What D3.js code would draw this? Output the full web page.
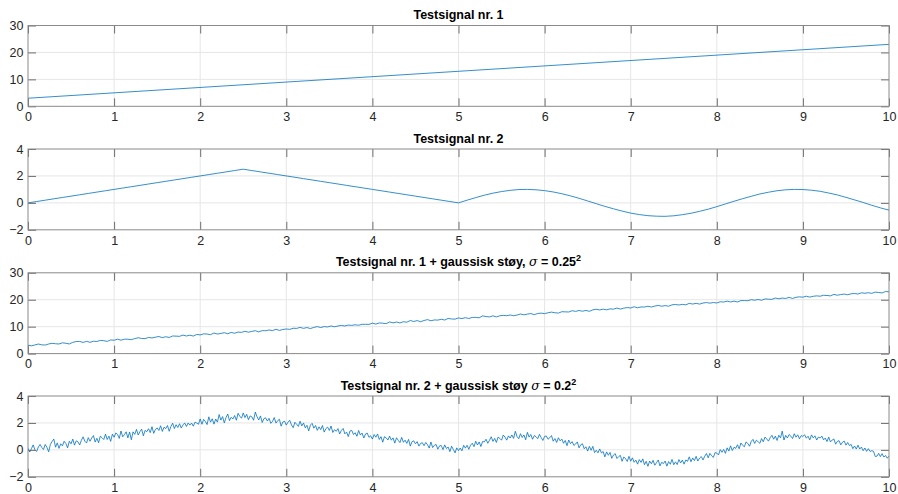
<!DOCTYPE html>
<html>
<head>
<meta charset="utf-8">
<script src="https://cdn.jsdelivr.net/npm/d3@7"></script>
<style>
  html, body { margin: 0; padding: 0; background: #fff; }
  svg { display: block; font-family: "Liberation Sans", Arial, Helvetica, sans-serif; }
</style>
</head>
<body>
<svg id="chart" width="898" height="494"></svg>
<script>
// ---- Data -------------------------------------------------------------
const xTickValues = [0, 1, 2, 3, 4, 5, 6, 7, 8, 9, 10];
const yTicksLinear = [0, 10, 20, 30];
const yTicksWave = [-2, 0, 2, 4];

// Testsignal nr. 1: straight ramp
const sig1X = [0, 10];
const sig1Y = [3, 23];

// Testsignal nr. 2: sampled every 0.1
const sig2Step = 0.1;
const sig2Y = [
  0.00, 0.10, 0.20, 0.30, 0.40, 0.50, 0.60, 0.70, 0.80, 0.90,
  1.00, 1.10, 1.20, 1.30, 1.40, 1.50, 1.60, 1.70, 1.80, 1.90,
  2.00, 2.10, 2.20, 2.30, 2.40, 2.50, 2.40, 2.30, 2.20, 2.10,
  2.00, 1.90, 1.80, 1.70, 1.60, 1.50, 1.40, 1.30, 1.20, 1.10,
  1.00, 0.90, 0.80, 0.70, 0.60, 0.50, 0.40, 0.30, 0.20, 0.10,
  0.00, 0.20, 0.39, 0.57, 0.72, 0.84, 0.93, 0.99, 1.00, 0.97,
  0.91, 0.81, 0.68, 0.52, 0.34, 0.14, -0.06, -0.26, -0.44, -0.61,
  -0.76, -0.87, -0.95, -0.99, -1.00, -0.96, -0.88, -0.77, -0.63, -0.47,
  -0.28, -0.08, 0.12, 0.31, 0.49, 0.66, 0.79, 0.90, 0.97, 1.00,
  0.99, 0.94, 0.86, 0.73, 0.59, 0.41, 0.22, 0.03, -0.18, -0.37,
  -0.54
];

// Testsignal nr. 1 + noise, sampled every 0.04
const sig3Step = 0.04;
const sig3Y = [
  3.12, 2.90, 3.21, 3.55, 3.25, 3.18, 3.57, 3.82, 3.66, 3.57,
  4.00, 3.84, 3.58, 4.18, 4.47, 4.50, 4.16, 4.54, 4.19, 4.59,
  4.50, 4.90, 4.79, 4.53, 5.08, 4.95, 5.36, 4.97, 5.35, 5.34,
  5.16, 5.57, 5.89, 5.62, 5.55, 6.01, 5.80, 6.10, 6.34, 5.92,
  6.26, 5.99, 6.54, 6.48, 6.41, 6.87, 6.53, 6.84, 6.51, 7.11,
  6.94, 7.32, 7.26, 7.03, 7.64, 7.27, 7.49, 7.76, 7.37, 7.87,
  7.55, 8.00, 7.87, 8.30, 7.94, 8.25, 8.50, 8.06, 8.53, 8.49,
  8.77, 8.54, 9.04, 8.61, 8.96, 9.13, 9.00, 9.41, 9.35, 9.72,
  9.38, 9.67, 9.30, 9.72, 10.02, 9.68, 10.03, 9.89, 10.27, 9.96,
  10.25, 10.46, 10.26, 10.58, 10.48, 10.69, 10.53, 10.88, 10.87, 10.84,
  11.30, 10.96, 11.38, 11.29, 11.12, 11.75, 11.42, 11.73, 11.39, 11.83,
  11.66, 12.28, 11.93, 12.25, 11.84, 12.29, 12.61, 12.19, 12.50, 12.43,
  12.75, 12.46, 13.06, 12.86, 12.80, 13.24, 13.00, 13.34, 13.04, 13.42,
  13.45, 13.30, 14.01, 13.76, 13.62, 14.02, 13.63, 14.04, 14.20, 14.06,
  14.34, 14.07, 14.31, 14.70, 14.39, 14.67, 14.87, 14.46, 14.87, 15.03,
  14.84, 15.16, 15.40, 15.15, 15.05, 15.55, 15.50, 15.44, 15.93, 15.68,
  16.00, 15.74, 16.02, 15.71, 16.24, 16.47, 16.21, 16.51, 16.25, 16.61,
  16.50, 16.91, 16.52, 16.88, 17.09, 16.94, 17.39, 17.01, 17.32, 17.30,
  17.58, 17.28, 17.65, 17.89, 17.59, 17.82, 17.59, 18.10, 18.25, 18.04,
  18.27, 18.11, 18.64, 18.40, 18.65, 18.38, 18.78, 18.95, 18.73, 18.95,
  18.80, 19.24, 19.14, 19.48, 19.17, 19.48, 19.17, 19.68, 19.69, 19.63,
  20.02, 19.82, 20.09, 19.80, 20.30, 20.21, 20.14, 20.63, 20.36, 20.62,
  20.48, 20.88, 20.48, 20.91, 21.07, 20.95, 21.31, 20.98, 21.28, 21.43,
  21.31, 21.65, 21.58, 21.43, 21.98, 21.67, 21.94, 22.10, 21.85, 22.20,
  22.32, 22.12, 22.57, 22.40, 22.61, 22.37, 22.83, 22.69, 22.54, 23.05,
  22.94
];

// Testsignal nr. 2 + noise, sampled every 0.02
const sig4Step = 0.02;
const sig4Y = [
  0.12, -0.16, 0.09, 0.37, 0.01, -0.12, 0.21, 0.40, 0.18, 0.03,
  0.40, 0.18, -0.14, 0.40, 0.63, 0.80, 0.20, 0.52, 0.11, 0.45,
  0.30, 0.64, 0.47, 0.15, 0.64, 0.45, 0.80, 0.35, 0.67, 0.60,
  0.36, 0.71, 0.97, 0.64, 0.51, 0.91, 0.64, 0.88, 1.06, 0.58,
  0.86, 0.53, 1.02, 0.90, 0.77, 1.17, 0.77, 1.02, 0.63, 1.17,
  0.94, 1.26, 1.14, 0.85, 1.40, 0.97, 1.13, 1.34, 0.89, 1.33,
  0.75, 1.34, 1.15, 1.52, 1.10, 1.35, 1.54, 1.04, 1.45, 1.35,
  1.57, 1.28, 1.72, 1.23, 1.52, 1.63, 1.44, 1.79, 1.37, 1.68,
  1.58, 1.81, 1.38, 1.74, 1.98, 1.58, 1.87, 1.66, 1.94, 1.62,
  1.85, 2.00, 1.74, 2.00, 1.84, 1.99, 1.76, 2.06, 1.99, 1.90,
  2.30, 1.90, 2.26, 2.11, 1.88, 2.45, 2.06, 2.31, 1.91, 2.29,
  2.06, 2.62, 2.21, 2.47, 2.00, 2.40, 2.66, 2.17, 2.42, 2.29,
  2.55, 2.20, 2.72, 2.48, 2.36, 2.74,
  2.40, 2.64, 2.24, 2.52,
  2.45, 2.20, 2.81, 2.46, 2.22, 2.52, 2.03, 2.32, 2.38, 2.14,
  2.34, 1.97, 2.11, 2.40, 1.99, 2.17, 2.27, 1.76, 2.07, 2.13,
  1.84, 2.06, 2.20, 1.85, 1.65, 2.05, 1.90, 1.74, 2.13, 1.78,
  2.00, 1.64, 1.82, 1.41, 1.84, 1.97, 1.61, 1.81, 1.45, 1.71,
  1.50, 1.81, 1.32, 1.58, 1.69, 1.44, 1.77, 1.29, 1.50, 1.38,
  1.58, 1.18, 1.45, 1.59, 1.19, 1.32, 0.99, 1.40, 1.45, 1.14,
  1.27, 1.01, 1.44, 1.10, 1.25, 0.88, 1.18, 1.25, 0.93, 1.05,
  0.80, 1.14, 0.94, 1.18, 0.77, 0.98, 0.57, 0.98, 0.89, 0.73,
  1.02, 0.72, 0.89, 0.50, 0.90, 0.71, 0.54, 0.93, 0.56, 0.72,
  0.48, 0.78, 0.28, 0.61, 0.67, 0.45, 0.61, 0.28, 0.48, 0.53,
  0.31, 0.55, 0.38, 0.13, 0.58, 0.17, 0.34, 0.40, 0.05, 0.30,
  0.32, 0.02, 0.37, 0.10, 0.21, -0.13, 0.27, 0.03, -0.22, 0.15,
  -0.06,
  0.14, -0.07, 0.34, 0.13, 0.34,
  0.04, 0.35, 0.49, 0.24, 0.64,
  0.36, 0.59, 0.25, 0.62, 0.59,
  0.79, 0.49, 0.71, 0.97, 0.63,
  0.85, 0.55, 0.95, 0.85, 0.72,
  1.10, 0.95, 0.72, 1.04, 0.88,
  1.11, 0.85, 1.38, 0.99, 0.83,
  1.20, 0.92, 1.11, 0.75, 1.30,
  0.95, 1.14, 0.79, 1.06, 0.98,
  0.83, 1.15, 0.92, 0.70, 1.00,
  1.03, 0.79, 0.90, 1.06, 0.64,
  0.84, 0.55, 0.90, 0.67, 0.80,
  0.49, 0.70, 0.31, 0.73, 0.46,
  0.61, 0.33, 0.43, 0.59, 0.15,
  0.38, 0.45, 0.08, 0.23, -0.09,
  0.26, -0.03, 0.26, -0.20, -0.03,
  -0.22, 0.07, -0.23, -0.12, -0.52,
  -0.15, -0.40, -0.19, -0.63, -0.38,
  -0.28, -0.64, -0.50, -0.41, -0.85,
  -0.53, -0.65, -0.86, -0.48, -0.84,
  -0.59, -0.92, -0.76, -1.06, -0.72,
  -0.93, -0.67, -1.10, -0.85, -1.22,
  -0.83, -1.03, -0.78, -1.14, -0.95,
  -0.75, -1.19, -0.92, -1.02, -0.83,
  -1.21, -0.87, -1.07, -0.71, -1.10,
  -0.89, -1.09, -0.72, -0.97, -0.76,
  -1.06, -0.75, -0.85, -0.52, -0.88,
  -0.60, -0.80, -0.48, -0.83, -0.61,
  -0.50, -0.75, -0.47, -0.27, -0.59,
  -0.26, -0.44, -0.56, -0.20, -0.24,
  -0.38, 0.02, -0.18, 0.03, -0.26,
  0.15, -0.09, 0.30, -0.05, 0.19,
  0.11, 0.38, 0.08, 0.51, 0.34,
  0.23, 0.59, 0.48, 0.27, 0.63,
  0.78, 0.48, 0.72, 0.60, 0.49,
  0.84, 0.60, 0.95, 0.81, 0.65,
  0.91, 1.08, 0.79, 1.02, 0.70,
  1.09, 0.89, 1.39, 0.73, 1.08,
  0.88, 1.14, 1.02, 0.84, 1.20,
  0.94, 1.12, 0.82, 1.06, 1.00,
  1.12, 0.87, 1.01, 0.74, 1.11,
  0.89, 1.04, 0.73, 0.95, 0.88,
  1.02, 0.74, 0.88, 0.62, 0.95,
  0.59, 0.73, 0.81, 0.42, 0.63,
  0.68, 0.37, 0.57, 0.65, 0.35,
  0.55, 0.32, 0.41, 0.09, 0.29,
  0.06, 0.35, 0.06, 0.21, -0.06,
  0.14, -0.11, 0.09, -0.12, -0.06,
  -0.11, -0.49, -0.47, -0.26, -0.50,
  -0.28, -0.53, -0.42, -0.62, -0.46
];

const titles = [
  "Testsignal nr. 1",
  "Testsignal nr. 2",
  "Testsignal nr. 1 + gaussisk støy, ",
  "Testsignal nr. 2 + gaussisk støy "
];
const sigmaValues = [null, null, "0.25", "0.2"];

// ---- Layout -----------------------------------------------------------
const svg = d3.select("#chart");
const left = 28, right = 889;
const panelTops = [25.5, 149, 272.8, 396];
const panelH = 80.8;
const tickLen = 8;
const lineColor = "#0072bd";
const boxColor = "#8a8a8a";
const gridColor = "#e6e6e6";
const textColor = "#262626";

const xScale = d3.scaleLinear().domain([0, 10]).range([left, right]);

const panels = [
  { x: sig1X, y: sig1Y, yDomain: [0, 30], yTicks: yTicksLinear },
  { x: sig2Y.map((_, i) => i * sig2Step), y: sig2Y, yDomain: [-2, 4], yTicks: yTicksWave },
  { x: sig3Y.map((_, i) => i * sig3Step), y: sig3Y, yDomain: [0, 30], yTicks: yTicksLinear },
  { x: sig4Y.map((_, i) => i * sig4Step), y: sig4Y, yDomain: [-2, 4], yTicks: yTicksWave }
];

panels.forEach((p, k) => {
  const top = panelTops[k], bottom = top + panelH;
  const yScale = d3.scaleLinear().domain(p.yDomain).range([bottom, top]);
  const g = svg.append("g");

  // grid
  g.append("g").selectAll("line").data(xTickValues.slice(1, -1)).join("line")
    .attr("x1", d => xScale(d)).attr("x2", d => xScale(d))
    .attr("y1", top).attr("y2", bottom)
    .attr("stroke", gridColor).attr("stroke-width", 1);
  g.append("g").selectAll("line").data(p.yTicks.slice(1, -1)).join("line")
    .attr("x1", left).attr("x2", right)
    .attr("y1", d => yScale(d)).attr("y2", d => yScale(d))
    .attr("stroke", gridColor).attr("stroke-width", 1);

  // data line
  const clipId = "clip" + k;
  g.append("clipPath").attr("id", clipId).append("rect")
    .attr("x", left).attr("y", top).attr("width", right - left).attr("height", panelH);
  const line = d3.line().x(d => xScale(d[0])).y(d => yScale(d[1]));
  g.append("path")
    .datum(p.x.map((xv, i) => [xv, p.y[i]]))
    .attr("clip-path", `url(#${clipId})`)
    .attr("d", line)
    .attr("fill", "none")
    .attr("stroke", lineColor)
    .attr("stroke-width", 0.8)
    .attr("stroke-linejoin", "round");

  // axes (inward ticks on all four sides)
  const axBottom = d3.axisBottom(xScale).tickValues(xTickValues).tickSize(-tickLen).tickPadding(6).tickFormat(d3.format("d"));
  const axTop = d3.axisTop(xScale).tickValues(xTickValues).tickSize(-tickLen).tickFormat("");
  const axLeft = d3.axisLeft(yScale).tickValues(p.yTicks).tickSize(-tickLen).tickPadding(4.5).tickFormat(d3.format("d"));
  const axRight = d3.axisRight(yScale).tickValues(p.yTicks).tickSize(-tickLen).tickFormat("");

  const styleAxis = sel => {
    sel.select(".domain").remove();
    sel.attr("font-size", null).attr("font-family", null);
    sel.selectAll(".tick line").attr("stroke", "#6e6e6e").attr("stroke-width", 1);
    sel.selectAll(".tick text").attr("fill", textColor)
      .style("font-size", "12.5px")
      .style("font-family", "'Liberation Sans', Arial, sans-serif");
  };
  g.append("g").attr("transform", `translate(0,${bottom})`).call(axBottom).call(styleAxis);
  g.append("g").attr("transform", `translate(0,${top})`).call(axTop).call(styleAxis);
  g.append("g").attr("transform", `translate(${left},0)`).call(axLeft).call(styleAxis);
  g.append("g").attr("transform", `translate(${right},0)`).call(axRight).call(styleAxis);

  // box
  g.append("rect")
    .attr("x", left).attr("y", top).attr("width", right - left).attr("height", panelH)
    .attr("fill", "none").attr("stroke", boxColor).attr("stroke-width", 1);

  // title
  const t = g.append("text")
    .attr("x", (left + right) / 2).attr("y", top - 6.5)
    .attr("text-anchor", "middle")
    .attr("fill", "#000")
    .style("font-size", "12.5px").style("font-weight", "bold");
  t.append("tspan").text(titles[k]);
  if (sigmaValues[k]) {
    t.append("tspan").text("σ").style("font-style", "italic").style("font-weight", "normal")
      .style("font-family", "'DejaVu Serif', 'Liberation Serif', serif");
    t.append("tspan").text(" = " + sigmaValues[k]);
    t.append("tspan").text("2").attr("dy", -5).style("font-size", "9px");
  }
});
</script>
</body>
</html>
